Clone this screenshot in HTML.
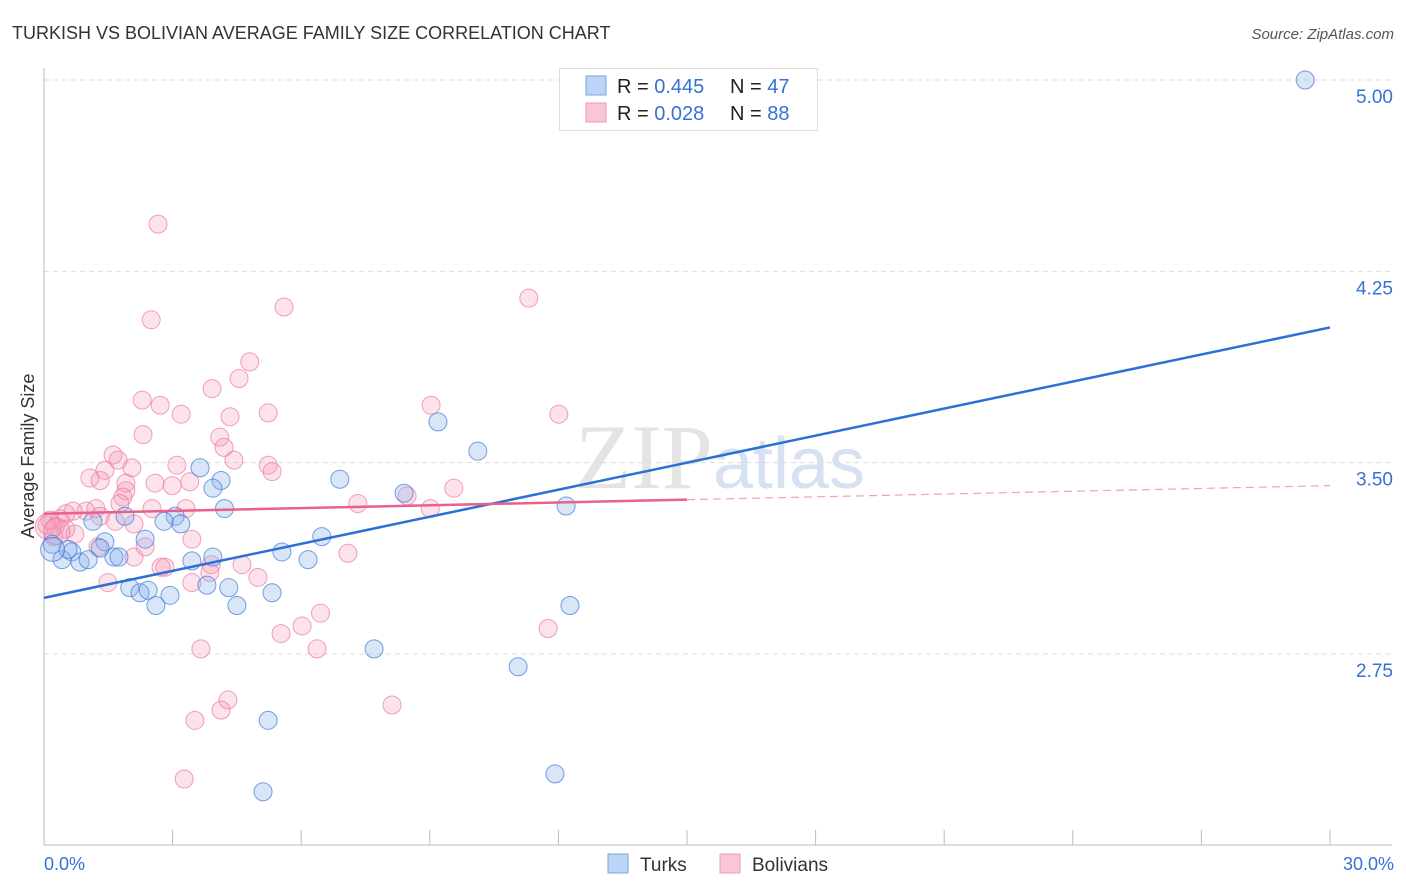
<!DOCTYPE html>
<html><head><meta charset="utf-8"><style>
body{margin:0;background:#fff;font-family:"Liberation Sans",sans-serif;}
#wrap{position:relative;width:1406px;height:892px;overflow:hidden;}
</style></head><body>
<div id="wrap">
<svg id="chart" width="1406" height="892" xmlns="http://www.w3.org/2000/svg">
<text x="12" y="39" font-size="18" fill="#333">TURKISH VS BOLIVIAN AVERAGE FAMILY SIZE CORRELATION CHART</text>
<text x="1394" y="39" font-size="15" fill="#555" font-style="italic" text-anchor="end">Source: ZipAtlas.com</text>
<text x="720" y="488" font-size="92" fill="#e4e4e4" text-anchor="middle" font-family="Liberation Serif,serif">ZIP<tspan fill="#d6e2f4" font-family="Liberation Sans,sans-serif" font-size="72">atlas</tspan></text>
<g id="grid"></g><g id="axes"></g><g id="pts"></g><g id="lines"></g>
<text transform="translate(34,456) rotate(-90)" font-size="18" fill="#333" text-anchor="middle">Average Family Size</text>
<g>
<rect x="559.5" y="68.5" width="258" height="62" fill="#fff" stroke="#ddd"/>
<rect x="586" y="76" width="20" height="19" fill="#bcd4f5" stroke="#7aa6e6"/>
<rect x="586" y="103" width="20" height="19" fill="#f9c6d5" stroke="#ef9ab4"/>
<text x="617" y="93" font-size="20" fill="#222">R = <tspan fill="#3671d6">0.445</tspan></text>
<text x="730" y="93" font-size="20" fill="#222">N = <tspan fill="#3671d6">47</tspan></text>
<text x="617" y="120" font-size="20" fill="#222">R = <tspan fill="#3671d6">0.028</tspan></text>
<text x="730" y="120" font-size="20" fill="#222">N = <tspan fill="#3671d6">88</tspan></text>
</g>
<g>
<rect x="608" y="854" width="20" height="19" fill="#bcd4f5" stroke="#7aa6e6"/>
<text x="640" y="871" font-size="19" fill="#333">Turks</text>
<rect x="720" y="854" width="20" height="19" fill="#f9c6d5" stroke="#ef9ab4"/>
<text x="752" y="871" font-size="19" fill="#333">Bolivians</text>
</g>
<text x="44" y="870" font-size="18" fill="#3671d6">0.0%</text>
<text x="1394" y="870" font-size="18" fill="#3671d6" text-anchor="end">30.0%</text>
</svg>
</div>
<script>
const yTicks=[5.00,4.25,3.50,2.75];
const yTickLabels=["5.00","4.25","3.50","2.75"];
const xTicks=[0,3,6,9,12,15,18,21,24,27,30];
const turksX=[29.42,9.19,10.12,6.9,8.4,12.18,3.64,4.13,3.94,4.21,3.06,3.19,2.8,1.89,1.14,6.48,5.55,6.16,3.94,3.45,3.8,4.31,5.32,2.36,1.42,0.65,0.42,0.84,1.03,1.63,1.75,1.31,0.19,0.56,2.0,2.24,2.43,2.94,2.61,4.5,12.27,7.7,11.06,5.23,11.92,5.11,0.2];
const turksY=[5.00,3.66,3.545,3.435,3.38,3.33,3.48,3.43,3.40,3.32,3.29,3.26,3.27,3.29,3.27,3.21,3.15,3.12,3.13,3.115,3.02,3.01,2.99,3.20,3.19,3.15,3.12,3.11,3.12,3.13,3.13,3.165,3.18,3.16,3.01,2.99,3.0,2.98,2.94,2.94,2.94,2.77,2.70,2.49,2.28,2.21,3.16];
const bolX=[2.66,11.31,2.5,5.6,4.8,4.55,3.92,2.29,2.71,3.2,5.23,4.34,9.03,12.01,2.31,4.1,4.2,4.43,1.61,1.73,3.1,5.23,5.32,1.42,2.05,1.07,1.31,1.91,2.59,2.99,3.4,1.91,1.84,9.56,8.47,7.32,9.01,3.31,2.52,1.77,1.21,0.98,0.68,0.51,0.37,1.31,1.66,2.1,0.14,0.07,0.26,0.51,0.72,0.23,1.26,2.36,3.45,2.1,2.82,2.73,3.9,4.62,3.87,4.99,1.49,3.45,7.09,6.45,6.02,5.53,11.76,3.66,6.37,4.29,4.13,8.12,3.52,3.27,0.1,0.3];
const bolY=[4.435,4.145,4.06,4.11,3.895,3.83,3.79,3.745,3.725,3.69,3.695,3.68,3.725,3.69,3.61,3.60,3.56,3.51,3.53,3.51,3.49,3.49,3.465,3.47,3.48,3.44,3.43,3.42,3.42,3.41,3.425,3.39,3.365,3.40,3.37,3.34,3.32,3.32,3.32,3.34,3.32,3.31,3.31,3.30,3.28,3.29,3.27,3.26,3.275,3.255,3.25,3.24,3.22,3.21,3.17,3.17,3.20,3.13,3.09,3.09,3.10,3.10,3.07,3.05,3.03,3.03,3.145,2.91,2.86,2.83,2.85,2.77,2.77,2.57,2.53,2.55,2.49,2.26,3.25,3.23];
const turksTrend=[2.97,4.03];
const bolTrend=[3.30,3.355,3.41];
const NS="http://www.w3.org/2000/svg";
const xS=v=>44+v*(1330-44)/30;
const yS=v=>80+(5-v)*(654-80)/2.25;
function mk(tag,at,parent){const e=document.createElementNS(NS,tag);for(const k in at)e.setAttribute(k,at[k]);document.getElementById(parent).appendChild(e);return e;}
yTicks.forEach((t,i)=>{
 const l=mk('line',{x1:44,x2:1392,y1:yS(t),y2:yS(t),stroke:'#ddd','stroke-dasharray':'5,4'},'grid');
 
 
 const tx=mk('text',{x:1393,y:yS(t)+23,'font-size':19,fill:'#3671d6','text-anchor':'end'},'grid');
 tx.textContent=yTickLabels[i];
 
 
});
let a=mk('line',{x1:44,x2:44,y1:68,y2:845,stroke:'#bbb'},'axes');


a=mk('line',{x1:44,x2:1392,y1:845,y2:845,stroke:'#bbb'},'axes');


xTicks.forEach(t=>{
 const l=mk('line',{x1:xS(t),x2:xS(t),y1:830,y2:845,stroke:'#bbb'},'axes');
 
 
});
bolX.forEach((x,i)=>{
 const c=mk('circle',{cx:xS(x),cy:yS(bolY[i]),r:(i>=78?13:9),fill:'rgba(244,150,180,0.28)',stroke:'rgba(236,120,158,0.7)','stroke-width':1},'pts');
 
 
});
turksX.forEach((x,i)=>{
 const c=mk('circle',{cx:xS(x),cy:yS(turksY[i]),r:(i===46?12:9),fill:'rgba(140,180,235,0.33)',stroke:'rgba(60,120,215,0.7)','stroke-width':1},'pts');
 
 
});
let tl=mk('line',{x1:xS(0),y1:yS(turksTrend[0]),x2:xS(30),y2:yS(turksTrend[1]),stroke:'#2c6fd6','stroke-width':2.5},'lines');


tl=mk('line',{x1:xS(0),y1:yS(bolTrend[0]),x2:xS(15),y2:yS(bolTrend[1]),stroke:'#e8608c','stroke-width':2.5},'lines');


tl=mk('line',{x1:xS(15),y1:yS(bolTrend[1]),x2:xS(30),y2:yS(bolTrend[2]),stroke:'#f0a0b8','stroke-width':1.2,'stroke-dasharray':'8,5'},'lines');


</script>
</body></html>
